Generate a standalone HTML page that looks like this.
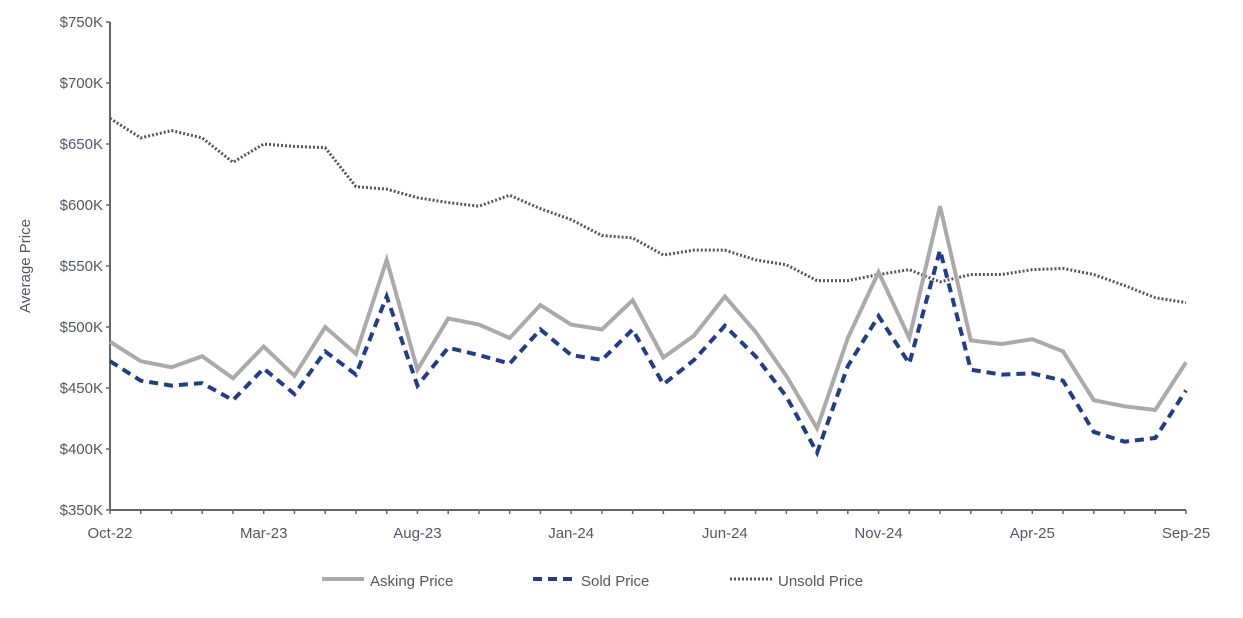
<!DOCTYPE html>
<html><head><meta charset="utf-8"><style>
body{margin:0;background:#fff;font-family:"Liberation Sans",sans-serif}
text{font-family:"Liberation Sans",sans-serif;fill:#55556a;font-size:15px}
</style></head><body>
<svg id="chart" width="1243" height="613" xmlns="http://www.w3.org/2000/svg"></svg>
<script>
const months=["Oct-22","Nov-22","Dec-22","Jan-23","Feb-23","Mar-23","Apr-23","May-23","Jun-23","Jul-23","Aug-23","Sep-23","Oct-23","Nov-23","Dec-23","Jan-24","Feb-24","Mar-24","Apr-24","May-24","Jun-24","Jul-24","Aug-24","Sep-24","Oct-24","Nov-24","Dec-24","Jan-25","Feb-25","Mar-25","Apr-25","May-25","Jun-25","Jul-25","Aug-25","Sep-25"];
const asking=[488,472,467,476,458,484,460,500,478,555,465,507,502,491,518,502,498,522,475,493,525,496,460,417,491,545,491,599,489,486,490,480,440,435,432,471];
const sold=[472,456,452,454,440,466,445,480,461,525,452,483,477,470,498,477,473,498,453,473,501,476,443,397,468,509,470,563,465,461,462,456,414,406,409,448];
const unsold=[671,655,661,655,635,650,648,647,615,613,606,602,599,608,597,588,575,573,559,563,563,555,551,538,538,543,547,537,543,543,547,548,543,534,524,520];
const yTicks=[350,400,450,500,550,600,650,700,750];
const xLabelIdx=[0,5,10,15,20,25,30,35];
const svg=document.getElementById('chart');const NS='http://www.w3.org/2000/svg';
const X0=110,X1=1186,Y0=510,Y1=22;
const x=i=>X0+i*(X1-X0)/(months.length-1);
const y=v=>Y0-(v-350)*(Y0-Y1)/400;
function mk(t,a,txt){const e=document.createElementNS(NS,t);for(const k in a)e.setAttribute(k,a[k]);if(txt!==undefined)e.textContent=txt;svg.appendChild(e);return e;}
let e;
e=mk('line',{x1:X0,y1:Y1,x2:X0,y2:Y0,stroke:'#666','stroke-width':2});

e=mk('line',{x1:X0,y1:Y0,x2:X1,y2:Y0,stroke:'#666','stroke-width':2});

yTicks.forEach(v=>{mk('line',{x1:X0-4,y1:y(v),x2:X0,y2:y(v),stroke:'#666','stroke-width':1.5});
e=mk('text',{x:X0-7,y:y(v)+5,'text-anchor':'end'},'$'+v+'K');
});
months.forEach((m,i)=>mk('line',{x1:x(i),y1:Y0,x2:x(i),y2:Y0+4,stroke:'#666','stroke-width':1.5}));
xLabelIdx.forEach(i=>{e=mk('text',{x:x(i),y:Y0+28,'text-anchor':'middle'},months[i]);
});
e=mk('text',{x:30,y:266,'text-anchor':'middle',transform:'rotate(-90 30 266)','font-size':17,fill:'#777'},'Average Price');

function line(arr,st,name){const p=arr.map((v,i)=>x(i)+','+y(v)).join(' ');
e=mk('polyline',Object.assign({points:p,fill:'none'},st));
}
line(unsold,{stroke:'#555','stroke-width':3,'stroke-dasharray':'2 2'},'unsold-price-line');
line(asking,{stroke:'#aaa','stroke-width':4},'asking-price-line');
line(sold,{stroke:'#1f3d8f','stroke-width':4,'stroke-dasharray':'9 6'},'sold-price-line');
const leg=[["Asking Price",{stroke:'#aaa','stroke-width':4},322],["Sold Price",{stroke:'#1f3d8f','stroke-width':4,'stroke-dasharray':'9 6'},533],["Unsold Price",{stroke:'#555','stroke-width':3,'stroke-dasharray':'2 2'},730]];
leg.forEach(([t,st,lx])=>{e=mk('line',Object.assign({x1:lx,y1:579,x2:lx+42,y2:579},st));

e=mk('text',{x:lx+48,y:586,'font-size':18,fill:'#55556a'},t);
});
</script>
</body></html>
